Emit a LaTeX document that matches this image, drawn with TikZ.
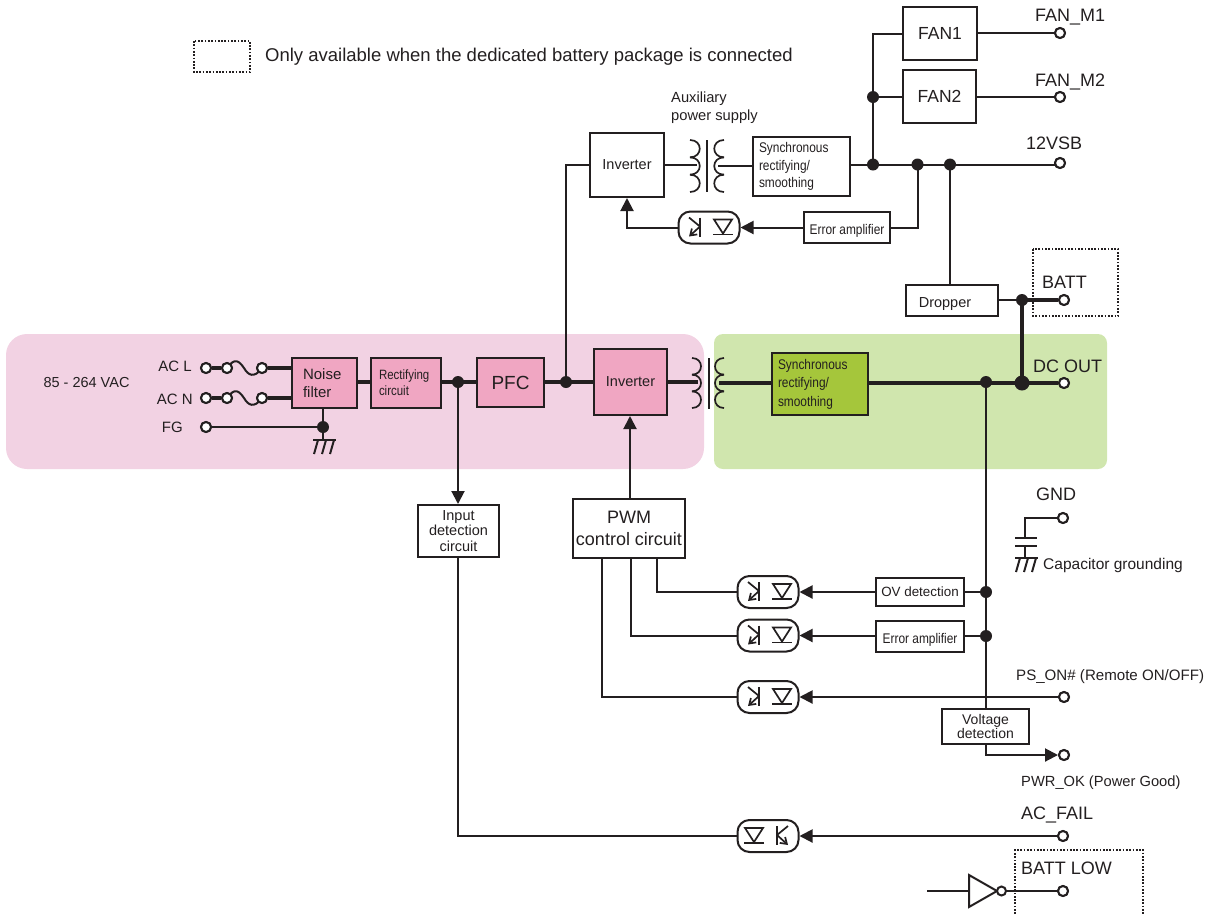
\documentclass[tikz,border=0pt]{standalone}
\usepackage{fontspec}
\setmainfont{Liberation Sans}
\newfontfamily\condfont[FakeStretch=0.85]{Liberation Sans}
\usetikzlibrary{arrows.meta,calc}
\definecolor{ink}{HTML}{231F20}
\definecolor{pinkbg}{HTML}{F2D2E3}
\definecolor{pinkbox}{HTML}{F0A6C2}
\definecolor{greenbg}{HTML}{D0E6AE}
\definecolor{greenbox}{HTML}{A5C63B}
\newcommand{\fs}[2]{\fontsize{#1}{#2}\selectfont}
\tikzset{
  wire/.style={line width=2pt,draw=ink},
  fat/.style={line width=4.4pt,draw=ink},
  arr/.style={wire,-{Triangle[length=13pt,width=13pt]}},
  blk/.style={draw=ink,line width=2pt,fill=white,text=ink,inner sep=0pt,align=center,anchor=center},
  pinkblk/.style={blk,fill=pinkbox},
  lower/.style={text height=15.5pt,text depth=2pt},
  lbl/.style={text=ink,inner sep=0pt,font=\fs{18}{20}},
  term/.style={circle,draw=ink,line width=2pt,fill=white,minimum size=10pt,inner sep=0pt},
  dotj/.style={circle,fill=ink,minimum size=12pt,inner sep=0pt},
  dotbig/.style={circle,fill=ink,minimum size=15pt,inner sep=0pt},
  dotbox/.style={draw=ink,line width=2pt,dash pattern=on 1.7pt off 1.6pt},
  optobox/.style={draw=ink,line width=2pt,fill=white,rounded corners=12pt,minimum width=61pt,minimum height=32pt,inner sep=0pt},
  sym/.style={draw=ink,line width=1.7pt},
}
% \blkbox[options]{name}{x1}{y1}{x2}{y2}{text}
\newcommand{\blkbox}[7][]{%
  \node[blk,#1,minimum width={(#5-#3)*1pt},minimum height={(#6-#4)*1pt}] (#2) at ({(#3+#5)/2},{(#4+#6)/2}) {#7};}
% \opto{name}{x}{y}{xscale}
\newcommand{\opto}[4]{%
  \node[optobox] (#1) at (#2,#3) {};
  \begin{scope}[shift={(#2,#3)},xscale=#4]
    \draw[sym] (5,-8) -- (23,-8) -- (14,6) -- cycle;
    \draw[sym] (4,7) -- (24,7);
    \draw[sym] (-9,-10) -- (-9,9);
    \draw[sym] (-20,-10) -- (-9,-1);
    \draw[sym,-{Straight Barb[length=6pt,width=8pt]}] (-9,-1) -- (-20,9);
  \end{scope}}
% \coil{x}{ytop}{height}{bulge}
\newcommand{\coil}[4]{%
  \foreach \k in {0,1,2}{
    \draw[sym] (#1,{#2+\k*#3/3}) .. controls ({#1+#4},{#2+\k*#3/3}) and ({#1+#4},{#2+(\k+1)*#3/3}) .. (#1,{#2+(\k+1)*#3/3});
  }}
% \fusecurve{x}{y}
\newcommand{\fusecurve}[2]{%
  \draw[sym,line width=2pt] (#1,#2) .. controls ({#1+8},{#2-11}) and ({#1+12},{#2-7}) .. ({#1+17},#2)
     .. controls ({#1+21},{#2+7}) and ({#1+27},{#2+11}) .. ({#1+35},#2);}
% \gnd{x}{y}
\newcommand{\gnd}[2]{%
  \draw[sym,line width=2pt] ({#1-10},#2) -- ({#1+13},#2);
  \foreach \d in {-8,0,8}{\draw[sym,line width=2pt] ({#1+\d+3},#2) -- ({#1+\d-1},{#2+14});}}
\begin{document}
\begin{tikzpicture}[x=1pt,y=-1pt]
\useasboundingbox (0,0) rectangle (1211,914);
% backgrounds
\fill[pinkbg,rounded corners=21pt] (6,334) rectangle (704,469);
\fill[greenbg,rounded corners=9pt] (714,334) rectangle (1107,469);
% legend
\draw[dotbox] (194,41) rectangle (250,72);
\node[lbl,font=\fs{18.5}{20},anchor=west] (legend) at (265,57) {Only available when the dedicated battery package is connected};
% dotted areas
\draw[dotbox] (1033,249) rectangle (1118,316);
\draw[dotbox] (1015,914) -- (1015,850) -- (1143,850) -- (1143,914);

% blocks
\blkbox[pinkblk,text width=43pt,inner xsep=11pt,align=left,font=\fs{15}{17.5}]{noise}{292}{358}{357}{408}{Noise\\filter}
\blkbox[pinkblk,text width=54pt,inner xsep=8pt,align=left,font=\condfont\fs{13.5}{16}]{rect}{371}{358}{441}{408}{Rectifying\\circuit}
\blkbox[pinkblk,font=\fs{19}{22}]{pfc}{477}{358}{544}{407}{PFC}
\blkbox[pinkblk,font=\fs{14.5}{17}]{invm}{594}{349}{667}{415}{Inverter}
\blkbox[fill=greenbox,text width=84pt,inner xsep=6pt,align=left,font=\condfont\fs{14}{18.5}]{syncm}{772}{353}{868}{415}{Synchronous\\rectifying/\\smoothing}
\blkbox[font=\fs{14.5}{17}]{inva}{590}{133}{664}{197}{Inverter}
\blkbox[text width=85pt,inner xsep=6pt,align=left,font=\condfont\fs{14}{17.5}]{synca}{753}{137}{850}{196}{Synchronous\\rectifying/\\smoothing}
\blkbox[lower,font=\condfont\fs{14}{17}]{erra}{804}{212}{890}{243}{Error amplifier}
\blkbox[lower,font=\fs{14.5}{17}]{drop}{906}{285}{998}{316}{Dropper\hspace*{14pt}}
\blkbox[font=\fs{17.5}{19}]{fanA}{903}{7}{977}{60}{FAN1}
\blkbox[font=\fs{17.5}{19}]{fanB}{903}{70}{976}{123}{FAN2}
\blkbox[font=\fs{14.5}{15.5}]{inpd}{418}{505}{499}{557}{Input\\detection\\circuit}
\blkbox[font=\fs{18}{22}]{pwm}{573}{499}{685}{558}{PWM\\control circuit}
\blkbox[font=\fs{13.4}{17}]{ovd}{876}{578}{964}{606}{OV detection}
\blkbox[lower,font=\condfont\fs{14}{17}]{errb}{876}{621}{964}{652}{Error amplifier}
\blkbox[font=\fs{14}{14.5}]{vdet}{942}{709}{1029}{744}{Voltage\\detection}

% optocouplers
\opto{optA}{709}{227.5}{1}
\opto{optB}{768}{592}{1}
\opto{optC}{768}{635.5}{1}
\opto{optD}{768}{697}{1}
\opto{optE}{768}{836}{-1}

% transformers
\coil{692}{358}{50}{12}
\coil{724}{358}{50}{-12}
\draw[sym,line width=2pt] (708.5,358) -- (708.5,409);
\coil{690}{140}{52}{13}
\coil{724}{140}{52}{-13}
\draw[sym,line width=2pt] (707,140) -- (707,192);

% terminals
\node[term] (tACL) at (206,368) {};
\node[term] (tACLb) at (227,368) {};
\node[term] (tACLc) at (262,368) {};
\node[term] (tACN) at (206,398) {};
\node[term] (tACNb) at (227,398) {};
\node[term] (tACNc) at (262,398) {};
\node[term] (tFG) at (206,427) {};
\node[term] (tFanA) at (1060,33) {};
\node[term] (tFanB) at (1060,97) {};
\node[term] (tVSB) at (1060,163) {};
\node[term] (tBATT) at (1064,300) {};
\node[term] (tDC) at (1064,383) {};
\node[term] (tGND) at (1063,518) {};
\node[term] (tPS) at (1064,697) {};
\node[term] (tPWR) at (1064,755) {};
\node[term] (tFAIL) at (1063,836) {};
\node[term] (tLOW) at (1063,891) {};

% junction coordinates
\coordinate (jFG) at (323,427);
\coordinate (gA) at (323,440);
\coordinate (jIn) at (458,382);
\coordinate (jPF) at (566,382);
\coordinate (jF2) at (873,97);
\coordinate (jF3) at (873,164.5);
\coordinate (jE) at (917.5,164.5);
\coordinate (jD) at (950,164.5);
\coordinate (jB) at (1022,300);
\coordinate (jC) at (1022,383);
\coordinate (jV) at (986,382);
\coordinate (jO) at (986,592);
\coordinate (jR) at (986,636);
\coordinate (vsbk) at (1060,164.5);
\coordinate (cT) at (1025,518);
\coordinate (cA) at (1025,538);
\coordinate (cB) at (1025,546);
\coordinate (cG) at (1025,558);
\coordinate (pIn) at (927,891);
\coordinate (invA) at (969,891);

% thick power path
\draw[fat] (tACL) -- (tACLb);
\draw[fat] (tACN) -- (tACNb);
\draw[fat] (tACLc) -- (tACLc -| noise.west);
\draw[fat] (tACNc) -- (tACNc -| noise.west);
\draw[fat] (noise.east |- jIn) -- (rect.west |- jIn);
\draw[fat] (rect.east |- jIn) -- (pfc.west |- jIn);
\draw[fat] (pfc.east |- jIn) -- (invm.west |- jIn);
\draw[fat] (invm.east |- jIn) -- (698,382);
\draw[fat] (719,383) -- (syncm.west |- jC);
\draw[fat] (syncm.east |- jC) -- (jC);
\draw[fat] (jC) -- (jB);
\draw[fat] (jB) -- (tBATT);
\draw[line width=3.2pt,draw=ink] (jC) -- (tDC);
\fusecurve{227}{368}
\fusecurve{227}{398}

% thin wires
\draw[wire] (noise.south -| jFG) -- (gA);
\draw[wire] (tFG) -- (jFG);
\gnd{323}{440}
\draw[wire] (inva.west) -| (jPF);
\draw[wire] (inva.east) -- (697,165);
\draw[wire] (718,166) -- (synca.west |- 0,166);
\draw[wire] (synca.east |- jD) -- (jF3);
\draw[wire] (jF3) -- (vsbk);
\draw[wire] (jF3) -- (jF3 |- fanA.west) -- (fanA.west);
\draw[wire] (jF2) -- (jF2 -| fanB.west);
\draw[wire] (fanA.east |- tFanA) -- (tFanA);
\draw[wire] (fanB.east |- tFanB) -- (tFanB);
\draw[wire] (erra.east) -| (jE);
\draw[wire] (jD) -- (jD |- drop.north);
\draw[wire] (drop.east |- jB) -- (jB);
\draw[arr] (erra.west) -- (optA.east);
\draw[arr] (optA.west) -| (inva.south -| 627,0);
\draw[arr] (jIn) -- (jIn |- inpd.north);
\draw[arr] (pwm.north -| 630,0) -- (invm.south -| 630,0);
\draw[wire] (inpd.south -| jIn) |- (optE.west);
\draw[arr] (tFAIL) -- (optE.east);
\draw[wire] (pwm.south -| 657,0) |- (optB.west);
\draw[wire] (pwm.south -| 631,0) |- (optC.west);
\draw[wire] (pwm.south -| 602,0) |- (optD.west);
\draw[arr] (ovd.west |- optB) -- (optB.east);
\draw[arr] (errb.west |- optC) -- (optC.east);
\draw[arr] (tPS) -- (optD.east);
\draw[wire] (ovd.east |- jO) -- (jO);
\draw[wire] (errb.east |- jR) -- (jR);
\draw[wire] (jV) -- (jV |- vdet.north);
\draw[arr] (vdet.south -| jV) |- (tPWR.west);

% GND capacitor
\draw[wire] (tGND) -- (cT) -- (cA);
\draw[wire] (1015,538) -- (1037,538);
\draw[wire] (1015,546) -- (1037,546);
\draw[wire] (cB) -- (cG);
\gnd{1025}{558}

% inverter gate
\draw[wire] (pIn) -- (invA);
\draw[sym,line width=2pt,fill=white] (invA) -- (969,875) -- (997,891) -- (969,907) -- cycle;
\node[term,minimum size=9pt] (bub) at (1001.5,891) {};
\draw[wire] (bub) -- (tLOW);

% dots
\foreach \p in {jFG,jIn,jPF,jF2,jF3,jE,jD,jB,jV,jO,jR}{\node[dotj] at (\p) {};}
\node[dotbig] at (jC) {};
% redraw terminals on top of wires
\foreach \p in {tACL,tACLb,tACLc,tACN,tACNb,tACNc,tBATT,tDC,tFanA,tFanB,tVSB,tGND,tPS,tFAIL,tLOW,tFG,tPWR}{\node[term] at (\p) {};}

% labels
\node[lbl,font=\fs{14.5}{17},anchor=center] (lvac) at (86.5,382) {85 - 264 VAC};
\node[lbl,font=\fs{15}{17},anchor=east] (lACL) at (192,366) {AC L};
\node[lbl,font=\fs{15}{17},anchor=east] (lACN) at (193,399) {AC N};
\node[lbl,font=\fs{15}{17},anchor=east] (lFG) at (183,427) {FG};
\node[lbl,font=\fs{14.7}{18},align=left,anchor=north west] (laux) at (671,92) {Auxiliary\\power supply};
\node[lbl,anchor=west] (lfA) at (1035,17.5) {FAN\_M1};
\node[lbl,anchor=west] (lfB) at (1035,81.5) {FAN\_M2};
\node[lbl,anchor=west] (lvsb) at (1026,143) {12VSB};
\node[lbl,anchor=west] (lbatt) at (1042,282) {BATT};
\node[lbl,anchor=west] (ldc) at (1033,366) {DC OUT};
\node[lbl,anchor=west] (lgnd) at (1036,494) {GND};
\node[lbl,font=\fs{15.5}{17},anchor=west] (lcap) at (1043,565.5) {Capacitor grounding};
\node[lbl,font=\fs{15.1}{17},anchor=west] (lps) at (1016,677) {PS\_ON\# (Remote ON/OFF)};
\node[lbl,font=\fs{14.7}{17},anchor=west] (lpwr) at (1021,782.5) {PWR\_OK (Power Good)};
\node[lbl,anchor=west] (lfail) at (1021,814.5) {AC\_FAIL};
\node[lbl,anchor=west] (llow) at (1021,868) {BATT LOW};
\end{tikzpicture}
\end{document}
